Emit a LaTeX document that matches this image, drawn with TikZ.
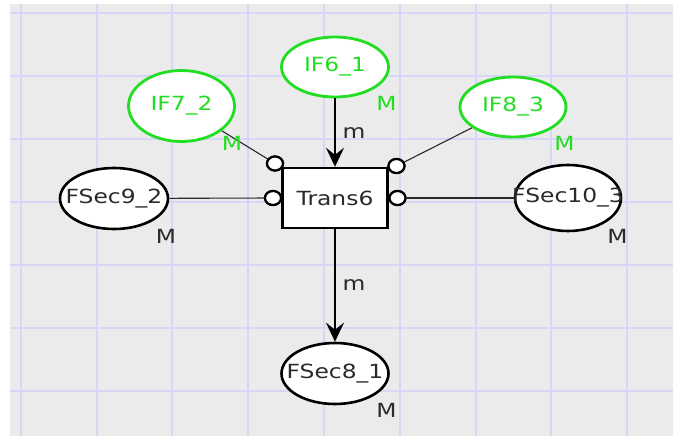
\documentclass[tikz,border=0pt]{standalone}
\usepackage{fontspec}
\setmainfont{DejaVu Sans}[FakeStretch=1.2]
\usetikzlibrary{arrows.meta,shapes.geometric}
\definecolor{bggray}{HTML}{EBEBEB}
\definecolor{gridc}{HTML}{D6D6F6}
\definecolor{ifgreen}{RGB}{34,222,34}
\definecolor{txtdark}{HTML}{2A2A2A}
\tikzset{
  ifnode/.style={ellipse,draw=ifgreen,fill=white,line width=2.8pt,inner sep=0pt,text=ifgreen},
  fsnode/.style={ellipse,draw=black,fill=white,line width=2.6pt,inner sep=0pt,text=txtdark},
  transbox/.style={rectangle,draw=black,fill=white,line width=2.4pt,inner sep=0pt,text=txtdark,minimum width=105pt,minimum height=60pt},
  portc/.style={ellipse,draw=black,fill=white,line width=2.2pt,inner sep=0pt,minimum width=16pt,minimum height=14pt},
  mlab/.style={inner sep=0pt,text=txtdark},
  mglab/.style={inner sep=0pt,text=ifgreen},
  arrowline/.style={draw=black,line width=1.7pt,-{Stealth[length=19pt,width=18pt,inset=7pt]}},
  thinline/.style={draw=txtdark,line width=1.1pt},
}
\newcommand{\zt}[1]{\makebox[0pt]{#1}}
\begin{document}
\begin{tikzpicture}[x=1pt,y=-1pt,font=\fontsize{19.5}{22}\selectfont]
\useasboundingbox (0,0) rectangle (673,436);
\fill[white] (0,0) rectangle (673,436);
\fill[bggray] (10,4) rectangle (673,436);
\foreach \k in {0,...,8} {
  \draw[gridc,line width=2pt] ({20.7+75.8*\k},4) -- ({20.7+75.8*\k},436);
}
\foreach \k in {0,...,6} {
  \draw[gridc,line width=2pt] (10,{13.3+62.9*\k}) -- (673,{13.3+62.9*\k});
}
% nodes
\node[transbox] (T6) at (335,198) {\zt{Trans6}};
\node[ifnode,minimum width=107pt,minimum height=60pt] (IF6) at (335,67) {\zt{IF6\_1}};
\node[ifnode,minimum width=106pt,minimum height=71pt] (IF7) at (181.5,106) {\zt{IF7\_2}};
\node[ifnode,minimum width=106pt,minimum height=60pt] (IF8) at (513,107) {\zt{IF8\_3}};
\node[fsnode,minimum width=108pt,minimum height=61pt] (FS9) at (114,198.5) {\zt{FSec9\_2}};
\node[fsnode,minimum width=106pt,minimum height=66pt] (FS10) at (568,198) {\zt{FSec10\_3}};
\node[fsnode,minimum width=107pt,minimum height=61pt] (FS8) at (335,373.5) {\zt{FSec8\_1}};
% ports
\node[portc] (c1) at (275,163.5) {};
\node[portc] (c2) at (273,198) {};
\node[portc] (c3) at (396.5,166) {};
\node[portc] (c4) at (397.5,198) {};
% connectors
\draw[thinline] (IF7) -- (c1);
\draw[thinline] (IF8) -- (c3);
\draw[thinline] (FS9) -- (c2);
\draw[thinline] (FS10) -- (c4);
\node[portc] at (c1) {};
\node[portc] at (c2) {};
\node[portc] at (c3) {};
\node[portc] at (c4) {};
\draw[arrowline] (IF6.south) -- (T6.north);
\draw[arrowline] (T6.south) -- (FS8.north);
% labels
\node[mlab] (m1) at (354,133) {m};
\node[mlab] (m2) at (354,285) {m};
\node[mglab] (M6) at (386.5,103) {M};
\node[mglab] (M7) at (232,143) {M};
\node[mglab] (M8) at (564.5,143) {M};
\node[mlab] (M9) at (166,236) {M};
\node[mlab] (M10) at (617.5,236.5) {M};
\node[mlab] (M8b) at (386.5,410) {M};
\end{tikzpicture}
\end{document}
